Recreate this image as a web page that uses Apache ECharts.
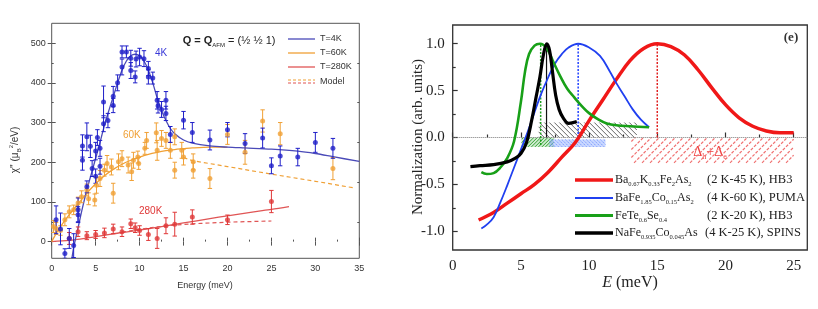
<!DOCTYPE html>
<html><head><meta charset="utf-8">
<script src="https://cdn.jsdelivr.net/npm/echarts@6/dist/echarts.min.js"></script>
<style>html,body{margin:0;padding:0;background:#fff}#c{width:818px;height:309px}</style>
</head><body><div id="c"></div>
<script>
// ---------- Left panel data: [E (meV), chi'' , error] ----------
const t4kPts = [[0.5,55,35],[1,32,40],[1.5,-30,12],[2,8,25],[2.5,-10,30],[3,80,30],[3,68,20],[3.5,241,28],[3.5,205,25],[4,264,35],[4,138,15],[4.4,240,28],[4.6,184,20],[5,165,18],[5,228,22],[5.2,262,20],[5.5,190,20],[5.5,235,20],[5.9,297,20],[5.9,352,40],[6.4,305,18],[7,343,18],[7,366,25],[7.5,400,20],[8,440,20],[8,478,15],[8.5,478,15],[9,431,20],[9,462,20],[9.5,415,15],[9.6,460,20],[10,465,22],[10.5,461,20],[11,436,18],[11,415,18],[11.5,412,15],[12,356,22],[12.1,342,18],[12.5,333,20],[13,356,22],[13,323,18],[13.5,270,20],[15,306,22],[16,275,25],[18,256,25],[20,282,18],[22,247,25],[24,261,25],[25,191,20],[26,216,25],[28,213,22],[30,250,25],[32,235,25]];
const t60kPts = [[0.2,38,15],[0.5,33,15],[1,28,12],[1.5,55,15],[2,75,15],[2.5,80,12],[3,97,15],[3.4,113,15],[4,130,15],[4.2,108,15],[4.9,105,15],[5.1,142,20],[5.5,159,20],[6,180,15],[6.3,197,20],[6.8,188,20],[7,122,25],[7.6,201,20],[8,209,20],[8.7,193,20],[9.1,176,22],[9.3,205,20],[9.8,213,15],[9.9,197,15],[10.6,235,15],[10.8,255,20],[11.9,274,25],[12,230,25],[12.5,260,20],[13,255,20],[13.5,230,20],[14,264,20],[14,180,20],[14.8,230,20],[15,213,20],[16.1,201,20],[16.1,180,20],[18,159,25],[20,270,25],[22,225,30],[24,304,28],[26,272,28],[32,184,28]];
const t280kPts = [[2,8,15],[3,25,12],[4,15,10],[5,18,10],[6,22,12],[7,32,12],[8,25,12],[9,45,12],[9.5,35,12],[10,28,12],[11,18,15],[12,8,25],[13,40,20],[14,44,30],[16,62,18],[20,55,12],[25,101,28]];
const t4kFit = [[2.3,-42],[2.5,-15],[3,35],[3.5,85],[4,130],[4.5,170],[5,210],[5.5,250],[6,293],[6.5,330],[7,365],[7.5,400],[8,432],[8.5,455],[9,468],[9.5,472],[10,468],[10.5,455],[11,432],[11.5,400],[12,362],[12.5,330],[13,305],[13.5,285],[14,272],[15,256],[16,248],[18,241],[20,238],[22,236],[25,233],[28,228],[30,222],[32,214],[35,202]];
const t60kFit = [[0,0],[0.5,20],[1,38],[2,68],[3,95],[4,122],[5,146],[6,166],[7,182],[8,195],[9,205],[10,213],[11,220],[12,225],[13,229],[14,232],[15,234],[16,236],[18,238],[20,238]];
const t60kModel = [[15,212],[16,204],[20,189],[25,170],[30,152],[34.5,135]];
const t280kFit = [[0,0],[2,3],[4,9],[6,16],[8,23],[10,29],[12,36],[15,47],[18,58],[20,65],[23,75],[25,81],[27,88]];
const t280kModel = [[8,24],[10,31],[12,37],[14,42],[17,46],[20,49],[25,52]];
const leftXTicks = [0,5,10,15,20,25,30,35];
const leftYTicks = [0,100,200,300,400,500];
const leftYMinor = [50,150,250,350,450];

// ---------- Right panel data: [E (meV), normalization] ----------
const baKCurve = [[1.9,-0.88],[3,-0.8],[4,-0.7],[5,-0.6],[6,-0.5],[7,-0.37],[8,-0.21],[9,-0.05],[10,0.18],[11,0.40],[12,0.62],[13,0.82],[14,0.95],[15,1.0],[16,0.97],[17,0.88],[18,0.72],[19,0.53],[20,0.35],[21,0.21],[22,0.12],[23,0.07],[24,0.05],[25,0.05]];
const baCoCurve = [[2.1,-0.97],[2.5,-0.93],[3,-0.85],[3.5,-0.69],[4,-0.51],[4.5,-0.32],[5,-0.13],[5.5,0.06],[6,0.27],[6.5,0.47],[7,0.64],[7.5,0.79],[8,0.89],[8.5,0.96],[9.2,1.0],[10,0.96],[10.8,0.87],[11.5,0.71],[12,0.58],[12.6,0.44],[13.2,0.30],[13.8,0.19],[14.4,0.11]];
const feTeCurve = [[2.1,-0.37],[2.5,-0.39],[3,-0.38],[3.5,-0.32],[4,-0.22],[4.5,-0.04],[5,0.38],[5.3,0.70],[5.6,0.89],[6,0.98],[6.4,1.0],[6.9,0.95],[7.4,0.80],[7.9,0.65],[8.4,0.52],[8.9,0.43],[9.5,0.33],[10,0.26],[10.7,0.19],[11.3,0.15],[12,0.13],[13,0.12],[14.4,0.11]];
const naFeCurve = [[1.3,-0.31],[2,-0.30],[3,-0.29],[4,-0.26],[4.6,-0.22],[5,-0.17],[5.4,-0.06],[5.8,0.19],[6.1,0.42],[6.4,0.65],[6.65,0.88],[6.9,1.0],[7.1,0.93],[7.3,0.72],[7.55,0.45],[7.8,0.30],[8.1,0.21],[8.5,0.15],[9.1,0.17]];
const peakE = {baK:15, baCo:9.2, feTe:6.45, naFe:6.88};
// gap regions [E0, E1, v0, v1]
const naFeGap = [[6.3,13.5,0,0.16]];
const feTeGap = [[5.05,7.4,-0.1,0]];
const baCoGap = [[7.1,11.2,-0.1,-0.02]];
const baKGap = [[13.1,25,-0.27,0]];
const rightXTicks = [0,5,10,15,20,25];
const rightXMinor = [2.5,7.5,12.5,17.5,22.5];
const rightYTicks = [-1,-0.5,0,0.5,1];
const rightYMinor = [-0.75,-0.25,0.25,0.75];

const SANS = '"Liberation Sans", Arial, sans-serif';
const SERIF = '"Liberation Serif", "Times New Roman", serif';
const C4 = '#1e1ec8', C4L = '#4a4ab8', C60 = '#f0a035', C280 = '#e03838', C280L = '#e05555';

function errRender(color){
  return function(params, api){
    const x=api.value(0), y=api.value(1), e=api.value(2);
    const hi=api.coord([x,y+e]), lo=api.coord([x,y-e]);
    const w=2.2, st={stroke:color, lineWidth:1};
    return {type:'group', children:[
      {type:'line', shape:{x1:hi[0],y1:hi[1],x2:lo[0],y2:lo[1]}, style:st},
      {type:'line', shape:{x1:hi[0]-w,y1:hi[1],x2:hi[0]+w,y2:hi[1]}, style:st},
      {type:'line', shape:{x1:lo[0]-w,y1:lo[1],x2:lo[0]+w,y2:lo[1]}, style:st}
    ]};
  };
}
function hatchRender(color, dir, step, fill, lw, dash){
  return function(params, api){
    const a=api.coord([api.value(0), api.value(3)]), b=api.coord([api.value(1), api.value(2)]);
    const L=Math.min(a[0],b[0]), R=Math.max(a[0],b[0]), T=Math.min(a[1],b[1]), B=Math.max(a[1],b[1]);
    const ch=[];
    if (fill) ch.push({type:'rect', shape:{x:L,y:T,width:R-L,height:B-T}, style:{fill:fill}});
    const st={stroke:color, lineWidth:lw, lineDash:dash||null};
    if (dir>0){ // '/' : x + y = c
      for (let c=L+T+step/2;c<R+B;c+=step){
        const xa=Math.max(L,c-B), xb=Math.min(R,c-T);
        if (xb>xa) ch.push({type:'line', shape:{x1:xa,y1:c-xa,x2:xb,y2:c-xb}, style:st});
      }
    } else { // '\' : y = x + c
      for (let c=T-R+step/2;c<B-L;c+=step){
        const xa=Math.max(L,T-c), xb=Math.min(R,B-c);
        if (xb>xa) ch.push({type:'line', shape:{x1:xa,y1:xa+c,x2:xb,y2:xb+c}, style:st});
      }
    }
    return {type:'group', children:ch};
  };
}
function errSeries(data,color){
  return {type:'custom', xAxisIndex:0, yAxisIndex:0, data:data, renderItem:errRender(color), encode:{x:0,y:1}, clip:true, silent:true, z:3};
}
function ptSeries(data,color){
  return {type:'scatter', xAxisIndex:0, yAxisIndex:0, data:data.map(p=>[p[0],p[1]]), symbol:'circle', symbolSize:5, itemStyle:{color:color}, clip:true, silent:true, z:4};
}
function lnSeries(data,color,xi,yi,w,type,z,smooth){
  return {type:'line', xAxisIndex:xi, yAxisIndex:yi, data:data, showSymbol:false, smooth:smooth||false, lineStyle:{color:color,width:w,type:type||'solid'}, clip:true, silent:true, z:z||2};
}
function hatchSeries(data,render){
  return {type:'custom', xAxisIndex:2, yAxisIndex:4, data:data, renderItem:render, encode:{x:[0,1],y:[2,3]}, clip:true, silent:true, z:1};
}

const tickL = {show:true, inside:true, length:4, lineStyle:{color:'#555'}};
const tickLm = {show:true, inside:true, length:2, lineStyle:{color:'#555'}};
const tickR = {show:true, inside:true, length:5, lineStyle:{color:'#333', width:1.2}};
const tickRm = {show:true, inside:true, length:3, lineStyle:{color:'#333', width:1.2}};

const option = {
  animation:false,
  grid:[
    {left:51.7, top:23.3, width:307.6, height:235, show:true, borderColor:'#555', borderWidth:1},
    {left:452.7, top:25, width:354.6, height:225, show:true, borderColor:'#333', borderWidth:1.3}
  ],
  xAxis:[
    {gridIndex:0, type:'value', min:0, max:35, position:'bottom', axisLine:{show:false}, splitLine:{show:false},
     axisTick:Object.assign({customValues:leftXTicks}, tickL),
     axisLabel:{customValues:leftXTicks, fontFamily:SANS, fontSize:9, color:'#333', margin:6}},
    {gridIndex:0, type:'value', min:0, max:35, position:'bottom', axisLine:{show:false}, splitLine:{show:false},
     axisTick:Object.assign({customValues:[2.5,7.5,12.5,17.5,22.5,27.5,32.5]}, tickLm), axisLabel:{show:false, customValues:[2.5]}},
    {gridIndex:1, type:'value', min:0, max:26, position:'bottom', axisLine:{show:false}, splitLine:{show:false},
     axisTick:Object.assign({customValues:rightXTicks}, tickR),
     axisLabel:{customValues:rightXTicks, fontFamily:SERIF, fontSize:15, color:'#222', margin:9}},
    {gridIndex:1, type:'value', min:0, max:26, position:'bottom', axisLine:{show:false}, splitLine:{show:false},
     axisTick:Object.assign({customValues:rightXMinor}, tickRm), axisLabel:{show:false, customValues:[2.5]}},
    {gridIndex:0, type:'value', min:0, max:35, position:'top', axisLine:{show:false}, splitLine:{show:false},
     axisTick:Object.assign({customValues:leftXTicks}, tickL), axisLabel:{show:false, customValues:leftXTicks}}
  ],
  yAxis:[
    {gridIndex:0, type:'value', min:-42, max:550, position:'left', axisLine:{show:false}, splitLine:{show:false},
     axisTick:Object.assign({customValues:leftYTicks}, tickL),
     axisLabel:{customValues:leftYTicks, fontFamily:SANS, fontSize:9, color:'#333', margin:6}},
    {gridIndex:0, type:'value', min:-42, max:550, position:'left', axisLine:{show:false}, splitLine:{show:false},
     axisTick:Object.assign({customValues:leftYMinor}, tickLm), axisLabel:{show:false, customValues:[50]}},
    {gridIndex:0, type:'value', min:-42, max:550, position:'right', axisLine:{show:false}, splitLine:{show:false},
     axisTick:Object.assign({customValues:leftYTicks}, tickL), axisLabel:{show:false, customValues:leftYTicks}},
    {gridIndex:0, type:'value', min:-42, max:550, position:'right', axisLine:{show:false}, splitLine:{show:false},
     axisTick:Object.assign({customValues:leftYMinor}, tickLm), axisLabel:{show:false, customValues:[50]}},
    {gridIndex:1, type:'value', min:-1.2, max:1.2, position:'left', axisLine:{show:false}, splitLine:{show:false},
     axisTick:Object.assign({customValues:rightYTicks}, tickR),
     axisLabel:{customValues:rightYTicks, fontFamily:SERIF, fontSize:15, color:'#222', margin:8,
       formatter:v=>(v<0?'-':'')+Math.abs(v).toFixed(1)}},
    {gridIndex:1, type:'value', min:-1.2, max:1.2, position:'left', axisLine:{show:false}, splitLine:{show:false},
     axisTick:Object.assign({customValues:rightYMinor}, tickRm), axisLabel:{show:false, customValues:[0.25]}}
  ],
  series:[
    // left panel
    lnSeries(t280kModel, C280L, 0,0, 1.2, [4,3], 2),
    lnSeries(t60kModel, C60, 0,0, 1.2, [4,3], 2),
    lnSeries(t280kFit, C280L, 0,0, 1.3, 'solid', 2, 0.3),
    lnSeries(t60kFit, C60, 0,0, 1.3, 'solid', 2, 0.3),
    lnSeries(t4kFit, C4L, 0,0, 1.3, 'solid', 2, 0.3),
    errSeries(t60kPts, C60), ptSeries(t60kPts, C60),
    errSeries(t280kPts, C280), ptSeries(t280kPts, C280),
    errSeries(t4kPts, C4), ptSeries(t4kPts, C4),
    // right panel hatched gap regions
    hatchSeries(baKGap, hatchRender('#f07070', 1, 8, null, 1.2, [3,1.5])),
    hatchSeries(naFeGap, hatchRender('#666', -1, 5, null, 1, null)),
    hatchSeries(feTeGap, hatchRender('#30a030', 1, 3.5, 'rgba(120,200,120,0.35)', 1, null)),
    hatchSeries(baCoGap, hatchRender('#6a8cff', -1, 3.5, 'rgba(140,170,255,0.45)', 0.8, [2,1])),
    lnSeries([[0,0],[26,0]], '#777', 2,4, 1, 'dotted', 1),
    lnSeries([[peakE.baK,0],[peakE.baK,1]], '#e02020', 2,4, 1.5, [2,1.5], 2),
    lnSeries([[peakE.baCo,0],[peakE.baCo,1]], '#2040ff', 2,4, 1.5, [2,1.5], 2),
    lnSeries([[peakE.feTe,-0.08],[peakE.feTe,1]], '#20a020', 2,4, 1.5, [2,1.5], 2),
    lnSeries([[peakE.naFe,0],[peakE.naFe,1]], '#111', 2,4, 1.2, 'solid', 2),
    lnSeries(baKCurve, '#f01818', 2,4, 3.5, 'solid', 3, 0.4),
    lnSeries(baCoCurve, '#2040f0', 2,4, 1.8, 'solid', 3, 0.4),
    lnSeries(feTeCurve, '#18a018', 2,4, 2.6, 'solid', 3, 0.4),
    lnSeries(naFeCurve, '#000', 2,4, 3.2, 'solid', 4, 0.4)
  ],
  graphic:[
    // left panel texts
    {type:'text', x:182.7, y:41, style:{text:'{b|Q = Q}{s|AFM}{n| = (½ ½ 1)}', verticalAlign:'middle', align:'left',
      rich:{b:{fontFamily:SANS, fontSize:11, fontWeight:'bold', fill:'#222', lineHeight:14, verticalAlign:'middle'},
            s:{fontFamily:SANS, fontSize:6, fill:'#222', lineHeight:14, verticalAlign:'bottom'},
            n:{fontFamily:SANS, fontSize:11, fill:'#222', lineHeight:14, verticalAlign:'middle'}}}},
    {type:'text', x:155, y:53, style:{text:'4K', fontFamily:SANS, fontSize:10, fill:'#3a3ad8', verticalAlign:'middle'}},
    {type:'text', x:123, y:135, style:{text:'60K', fontFamily:SANS, fontSize:10, fill:'#f0a035', verticalAlign:'middle'}},
    {type:'text', x:139, y:211, style:{text:'280K', fontFamily:SANS, fontSize:10, fill:'#e03838', verticalAlign:'middle'}},
    {type:'line', shape:{x1:288,y1:39,x2:315,y2:39}, style:{stroke:C4L, lineWidth:1.3}},
    {type:'line', shape:{x1:288,y1:53,x2:315,y2:53}, style:{stroke:C60, lineWidth:1.3}},
    {type:'line', shape:{x1:288,y1:67,x2:315,y2:67}, style:{stroke:C280L, lineWidth:1.3}},
    {type:'line', shape:{x1:288,y1:80,x2:315,y2:80}, style:{stroke:C60, lineWidth:1.2, lineDash:[3,2]}},
    {type:'line', shape:{x1:288,y1:83,x2:315,y2:83}, style:{stroke:C280L, lineWidth:1.2, lineDash:[3,2]}},
    {type:'text', x:320, y:39, style:{text:'T=4K', fontFamily:SANS, fontSize:9, fill:'#333', verticalAlign:'middle'}},
    {type:'text', x:320, y:53, style:{text:'T=60K', fontFamily:SANS, fontSize:9, fill:'#333', verticalAlign:'middle'}},
    {type:'text', x:320, y:67, style:{text:'T=280K', fontFamily:SANS, fontSize:9, fill:'#333', verticalAlign:'middle'}},
    {type:'text', x:320, y:82, style:{text:'Model', fontFamily:SANS, fontSize:9, fill:'#333', verticalAlign:'middle'}},
    {type:'text', x:205, y:286, style:{text:'Energy (meV)', fontFamily:SANS, fontSize:9, fill:'#333', align:'center', verticalAlign:'middle'}},
    {type:'text', x:15, y:150, rotation:Math.PI/2, style:{text:'{n|χ\'\' (μ}{s|B}{p|2}{n|/eV)}', align:'center', verticalAlign:'middle',
      rich:{n:{fontFamily:SANS, fontSize:10, fill:'#333', lineHeight:14, verticalAlign:'middle'},
            s:{fontFamily:SANS, fontSize:6, fill:'#333', lineHeight:14, verticalAlign:'bottom'},
            p:{fontFamily:SANS, fontSize:6, fill:'#333', lineHeight:14, verticalAlign:'top'}}}},
    // right panel texts
    {type:'text', x:791, y:38, style:{text:'(e)', fontFamily:SERIF, fontSize:13, fontWeight:'bold', fill:'#333', align:'center', verticalAlign:'middle'}},
    {type:'text', x:710, y:152, style:{text:'{n|Δ}{s|h}{n|+Δ}{s|e}', align:'center', verticalAlign:'middle',
      rich:{n:{fontFamily:SERIF, fontSize:14, fill:'#f04040', lineHeight:18, verticalAlign:'middle'},
            s:{fontFamily:SERIF, fontSize:8, fill:'#f04040', lineHeight:18, verticalAlign:'bottom'}}}},
    {type:'text', x:630, y:283, style:{text:'{i|E}{n| (meV)}', align:'center', verticalAlign:'middle',
      rich:{i:{fontFamily:SERIF, fontSize:16, fontStyle:'italic', fill:'#222'}, n:{fontFamily:SERIF, fontSize:16, fill:'#222'}}}},
    {type:'text', x:418, y:137, rotation:Math.PI/2, style:{text:'Normalization (arb. units)', fontFamily:SERIF, fontSize:15, fill:'#222', align:'center', verticalAlign:'middle'}},
    {type:'line', shape:{x1:575,y1:180,x2:613,y2:180}, style:{stroke:'#f01818', lineWidth:3.5}},
    {type:'line', shape:{x1:575,y1:198,x2:613,y2:198}, style:{stroke:'#2040f0', lineWidth:1.8}},
    {type:'line', shape:{x1:575,y1:215.5,x2:613,y2:215.5}, style:{stroke:'#18a018', lineWidth:3}},
    {type:'line', shape:{x1:575,y1:233,x2:613,y2:233}, style:{stroke:'#000', lineWidth:3.5}}
  ]
};

const legRich = {n:{fontFamily:SERIF, fontSize:12, fill:'#222', lineHeight:16, verticalAlign:'middle'},
                 s:{fontFamily:SERIF, fontSize:6.5, fill:'#222', lineHeight:16, verticalAlign:'bottom'}};
const legNames = ['{n|Ba}{s|0.67}{n|K}{s|0.33}{n|Fe}{s|2}{n|As}{s|2}',
                  '{n|BaFe}{s|1.85}{n|Co}{s|0.15}{n|As}{s|2}',
                  '{n|FeTe}{s|0.6}{n|Se}{s|0.4}',
                  '{n|NaFe}{s|0.935}{n|Co}{s|0.045}{n|As}'];
const legInfo = ['(2 K-45 K), HB3','(4 K-60 K), PUMA','(2 K-20 K), HB3','(4 K-25 K), SPINS'];
const legY = [180,198,215.5,233];
legNames.forEach((t,i)=>{
  option.graphic.push({type:'text', x:615, y:legY[i], style:{text:t, rich:legRich, verticalAlign:'middle', align:'left'}});
  option.graphic.push({type:'text', x:i===3?705:707, y:legY[i], style:{text:legInfo[i], fontFamily:SERIF, fontSize:12.5, fill:'#222', verticalAlign:'middle', align:'left'}});
});

const chart = echarts.init(document.getElementById('c'), null, {renderer:'canvas'});
chart.setOption(option);
</script></body></html>
